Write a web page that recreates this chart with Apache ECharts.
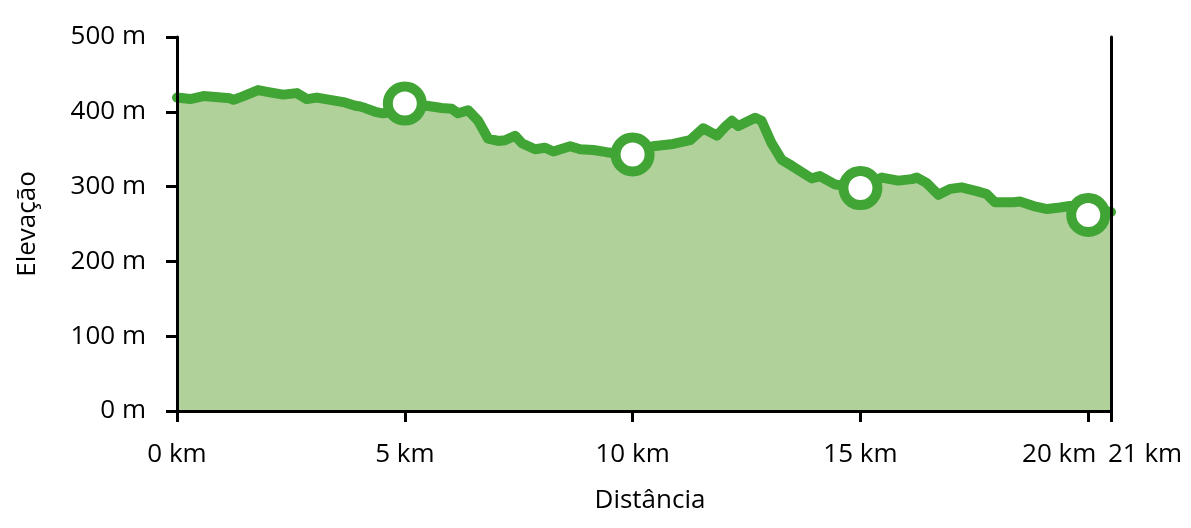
<!DOCTYPE html>
<html><head><meta charset="utf-8">
<script src="https://cdn.jsdelivr.net/npm/echarts@6/dist/echarts.min.js"></script>
<style>html,body{margin:0;padding:0;background:#fff}#c{width:1191px;height:528px}</style>
</head><body><div id="c"></div>
<script>
const distKm = [0.00,0.29,0.58,1.16,1.24,1.46,1.78,2.04,2.33,2.63,2.85,3.07,3.36,3.65,3.91,4.02,4.13,4.35,4.52,4.78,5.00,5.48,5.81,6.03,6.17,6.39,6.61,6.83,7.05,7.20,7.42,7.57,7.86,8.08,8.26,8.63,8.85,9.14,9.43,9.72,10.00,10.45,10.89,11.26,11.55,11.85,12.03,12.18,12.32,12.69,12.83,13.05,13.27,13.49,13.93,14.11,14.44,14.73,15.00,15.47,15.83,16.13,16.24,16.45,16.71,16.97,17.22,17.55,17.77,17.95,18.36,18.50,18.80,19.10,19.38,19.60,20.00,20.26,20.50];
const elevM  = [419,417,421,418,416,421,429,426,423,425,417,419,416,413,408,407,405,400,398,400,406,408,405,404,398,402,388,364,361,362,368,358,350,352,347,354,350,349,346,344,345,354,357,362,378,368,380,388,381,392,388,358,336,328,311,314,303,300,300,312,308,310,312,305,289,297,299,294,290,279,279,280,274,270,272,274,270,268,266];
const markerKm = [5,10,15,20];
const markerM = [411,343,298,262];
const xTickValues = [0,5,10,15,20,20.5];
const xTickLabels = ['0 km','5 km','10 km','15 km','20 km','21 km'];
const yTickSuffix = ' m';

const FONT = 'Open Sans';
const FS = 26;
const chart = echarts.init(document.getElementById('c'));
const axisLineStyle = {color:'#000', width:3};
chart.setOption({
  animation:false,
  grid:{left:177,right:80,top:37,bottom:117},
  xAxis:{
    type:'value', min:0, max:20.5, z:5,
    name:'Distância', nameLocation:'middle', nameGap:77,
    nameTextStyle:{fontFamily:FONT,fontSize:FS,color:'#000',padding:[0,0,0,12]},
    axisLine:{show:true,onZero:false,lineStyle:axisLineStyle},
    axisTick:{show:true,length:11,customValues:xTickValues,lineStyle:axisLineStyle},
    splitLine:{show:false},
    axisLabel:{
      customValues:xTickValues, margin:31,
      fontFamily:FONT,fontSize:FS,color:'#000',
      formatter:function(v){
        const i = xTickValues.indexOf(v);
        const t = xTickLabels[i];
        if (v===20) return '{l|'+t+'}';
        if (v===20.5) return '{r|'+t+'}';
        return t;
      },
      rich:{
        l:{fontFamily:FONT,fontSize:FS,color:'#000',padding:[0,58,0,0]},
        r:{fontFamily:FONT,fontSize:FS,color:'#000',padding:[0,0,0,68]}
      }
    }
  },
  yAxis:[{
    type:'value', min:0, max:500, interval:100, z:5,
    name:'Elevação', nameLocation:'middle', nameGap:136, nameRotate:90,
    nameTextStyle:{fontFamily:FONT,fontSize:FS,color:'#000'},
    axisLine:{show:true,lineStyle:axisLineStyle},
    axisTick:{show:true,length:11,lineStyle:axisLineStyle},
    splitLine:{show:false},
    axisLabel:{margin:31,fontFamily:FONT,fontSize:FS,color:'#000',formatter:function(v){return v+yTickSuffix;}}
  },{
    type:'value', min:0, max:500, interval:100, position:'right', z:5,
    axisLine:{show:true,lineStyle:axisLineStyle},
    axisTick:{show:false}, axisLabel:{show:false}, splitLine:{show:false}
  }],
  series:[{
    type:'line', clip:false, showSymbol:false, symbol:'none',
    data: distKm.map((d,i)=>[d,elevM[i]]),
    lineStyle:{color:'#40a535',width:10,join:'round',cap:'round'},
    areaStyle:{color:'#b1d19b',opacity:1},
    z:2
  },{
    type:'scatter', clip:false,
    data: markerKm.map((d,i)=>[d,markerM[i]]),
    symbol:'circle', symbolSize:34,
    itemStyle:{color:'#fff',borderColor:'#40a535',borderWidth:10,opacity:1},
    z:3
  }]
});
</script></body></html>
